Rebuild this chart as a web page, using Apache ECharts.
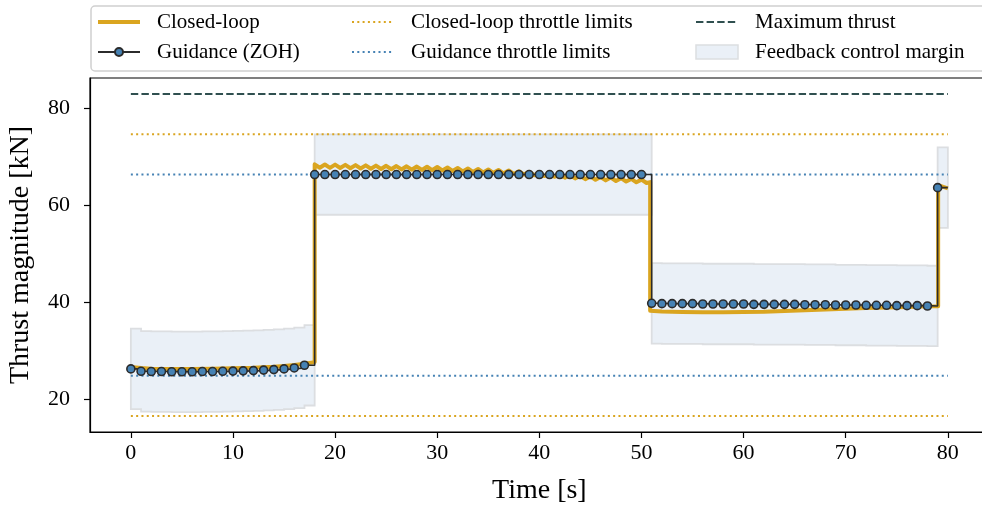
<!DOCTYPE html>
<html>
<head>
<meta charset="utf-8">
<script src="https://cdn.jsdelivr.net/npm/echarts@6/dist/echarts.min.js"></script>
<style>
  html, body { margin: 0; padding: 0; background: #fff; overflow: hidden; }
  #chart { width: 982px; height: 510px; }
</style>
</head>
<body>
<div id="chart"></div>
<script>
// ---- Data -------------------------------------------------------------
// Guidance thrust command, held between 1 s updates (zero-order hold)
const guidanceTime = [
  0, 1, 2, 3, 4, 5, 6, 7, 8, 9, 10, 11, 12, 13, 14, 15, 16, 17,
  18, 19, 20, 21, 22, 23, 24, 25, 26, 27, 28, 29, 30, 31, 32, 33, 34,
  35, 36, 37, 38, 39, 40, 41, 42, 43, 44, 45, 46, 47, 48, 49, 50,
  51, 52, 53, 54, 55, 56, 57, 58, 59, 60, 61, 62, 63, 64, 65, 66, 67,
  68, 69, 70, 71, 72, 73, 74, 75, 76, 77, 78,
  79
];
const guidanceThrust = [
  26.3, 25.8, 25.75, 25.75, 25.7, 25.7, 25.7, 25.75, 25.75, 25.8, 25.85, 25.9, 25.95, 26.05, 26.15, 26.3, 26.5, 27.05,
  66.4, 66.4, 66.4, 66.4, 66.4, 66.4, 66.4, 66.4, 66.4, 66.4, 66.4, 66.4, 66.4, 66.4, 66.4, 66.4, 66.4,
  66.4, 66.4, 66.4, 66.4, 66.4, 66.4, 66.4, 66.4, 66.4, 66.4, 66.4, 66.4, 66.4, 66.4, 66.4, 66.4,
  39.83, 39.76, 39.76, 39.76, 39.76, 39.69, 39.69, 39.69, 39.69, 39.69, 39.62, 39.62, 39.62, 39.62, 39.62, 39.55, 39.55,
  39.55, 39.48, 39.48, 39.48, 39.42, 39.42, 39.42, 39.35, 39.35, 39.35, 39.28,
  63.7
];
const guidanceEnd = 80;            // last command is held until the end of the run

// Closed-loop thrust response
const closedLoopTime = [
  0, 1, 2, 4, 6, 8, 10, 12, 13, 14, 15, 16, 17, 18,
  18, 18.5, 19, 19.5, 20, 20.5, 21, 21.5, 22, 22.5, 23, 23.5, 24, 24.5, 25, 25.5, 26, 26.5,
  27, 27.5, 28, 28.5, 29, 29.5, 30, 30.5, 31, 31.5, 32, 32.5, 33, 33.5, 34, 34.5,
  35, 35.5, 36, 36.5, 37, 37.5, 38, 38.5, 39, 39.5, 40, 40.5, 41, 41.5, 42, 42.5,
  43, 43.5, 44, 44.5, 45, 45.5, 46, 46.5, 47, 47.5, 48, 48.5, 49, 49.5, 50, 50.5, 50.85,
  50.85, 52, 54, 56, 58, 60, 62, 64, 66, 68, 70, 72, 74, 76, 78, 79.05,
  79.05, 80
];
const closedLoopThrust = [
  26.7, 26.5, 26.35, 26.3, 26.3, 26.35, 26.45, 26.55, 26.65, 26.75, 26.9, 27.1, 27.35, 27.7,
  68.5, 67.8, 68.47, 67.77, 68.45, 67.75, 68.4, 67.7, 68.35, 67.65, 68.3, 67.6, 68.25, 67.55, 68.2, 67.5, 68.15, 67.45,
  68.1, 67.4, 68.05, 67.35, 68.0, 67.3, 67.95, 67.25, 67.85, 67.15, 67.75, 67.05, 67.65, 66.95, 67.55, 66.85,
  67.45, 66.75, 67.35, 66.65, 67.23, 66.53, 67.1, 66.4, 66.95, 66.25, 66.8, 66.1, 66.63, 65.93, 66.45, 65.75,
  66.3, 65.6, 66.15, 65.45, 66.03, 65.33, 65.9, 65.2, 65.77, 65.07, 65.65, 64.95, 65.5, 64.8, 65.35, 64.65, 64.85,
  38.3, 38.15, 38.05, 38.0, 38.0, 38.05, 38.1, 38.25, 38.4, 38.55, 38.7, 38.85, 38.95, 39.05, 39.2, 39.25,
  64.2, 63.55
];

const maxThrust = 83.0;                    // kN
const closedLoopLimits = [16.6, 74.7];     // kN
const guidanceLimits = [24.9, 66.4];       // kN
const limitSpan = [0, 80];                 // s
const controlMargin = 8.3;                 // kN either side of the guidance command
const marginSegments = [[0, 18], [18, 51], [51, 79], [79, 80]];

const xTicks = [0, 10, 20, 30, 40, 50, 60, 70, 80];
const yTicks = [20, 40, 60, 80];

// ---- Styling ------------------------------------------------------------
const FONT = "'Liberation Serif', 'DejaVu Serif', serif";
const GOLD = '#daa520';
const STEEL = '#4682b4';
const DARK = '#2b2b2b';
const SLATE = '#2f4f4f';
const BAND_FILL = '#eaf0f7';
const BAND_EDGE = '#dcdee1';

const pairs = (xs, ys) => xs.map((x, i) => [x, ys[i]]);

const guidanceData = pairs(guidanceTime, guidanceThrust);
guidanceData.push({ value: [guidanceEnd, guidanceThrust[guidanceThrust.length - 1]], symbol: 'none' });

function hline(name, y, color, dash, z) {
  return {
    name, type: 'line', data: [[limitSpan[0], y], [limitSpan[1], y]],
    symbol: 'none', silent: true, z,
    lineStyle: { color, width: 2, type: dash, cap: 'butt' },
    itemStyle: { color }
  };
}

// Filled band: zero-order hold of guidance ± margin, one polygon per burn segment
function renderMargin(params, api) {
  const s = api.value(0), e = api.value(1);
  const top = [], bottom = [];
  const idx = [];
  guidanceTime.forEach((t, i) => { if (t >= s && t < e) idx.push(i); });
  idx.forEach((i, k) => {
    const t0 = guidanceTime[i];
    const t1 = k + 1 < idx.length ? guidanceTime[idx[k + 1]] : e;
    const g = guidanceThrust[i];
    top.push(api.coord([t0, g + controlMargin]), api.coord([t1, g + controlMargin]));
    bottom.push(api.coord([t0, g - controlMargin]), api.coord([t1, g - controlMargin]));
  });
  return {
    type: 'polygon',
    shape: { points: top.concat(bottom.reverse()) },
    style: { fill: BAND_FILL, stroke: BAND_EDGE, lineWidth: 1.8 }
  };
}

const legendText = { fontFamily: FONT, fontSize: 21, color: '#000', lineHeight: 24, padding: [0, 0, 0, 12] };
const legendBase = {
  orient: 'vertical', top: 10, itemWidth: 42, itemHeight: 14, itemGap: 6,
  padding: 0, selectedMode: false, textStyle: legendText
};
const plainLine = (name, extra) => Object.assign({ name, itemStyle: { opacity: 0 } }, extra || {});

const option = {
  animation: false,
  backgroundColor: '#fff',
  graphic: [{
    type: 'rect', z: 0, silent: true,
    shape: { x: 91, y: 6, width: 1000, height: 65, r: 4 },
    style: { fill: '#fff', stroke: '#d0d0d0', lineWidth: 1.5 }
  }],
  legend: [
    Object.assign({}, legendBase, {
      left: 96, itemHeight: 10,
      data: [plainLine('Closed-loop', { lineStyle: { width: 4, color: GOLD } }), 'Guidance (ZOH)']
    }),
    Object.assign({}, legendBase, {
      left: 351, itemHeight: 10,
      data: [plainLine('Closed-loop throttle limits'), plainLine('Guidance throttle limits')]
    }),
    Object.assign({}, legendBase, {
      left: 695,
      data: [plainLine('Maximum thrust'), {
        name: 'Feedback control margin', icon: 'rect',
        itemStyle: { color: BAND_FILL, borderColor: BAND_EDGE, borderWidth: 1.5 }
      }]
    })
  ],
  grid: {
    left: 90, top: 78, width: 898.7, height: 354, outerBoundsMode: 'none',
    show: true, borderColor: '#000', borderWidth: 1.2, backgroundColor: 'transparent'
  },
  xAxis: {
    type: 'value', min: -4, max: 84,
    name: 'Time [s]', nameLocation: 'middle', nameGap: 45,
    nameTextStyle: { fontFamily: FONT, fontSize: 28, color: '#000' },
    axisLine: { show: true, onZero: false, lineStyle: { color: '#000', width: 1.2 } },
    axisTick: { show: true, length: 6, customValues: xTicks, lineStyle: { color: '#000', width: 1.2 } },
    axisLabel: { customValues: xTicks, margin: 10, fontFamily: FONT, fontSize: 22, color: '#000' },
    splitLine: { show: false }
  },
  yAxis: {
    type: 'value', min: 13.28, max: 86.32,
    name: 'Thrust magnitude [kN]', nameLocation: 'middle', nameGap: 55, nameRotate: 90,
    nameTextStyle: { fontFamily: FONT, fontSize: 28, color: '#000' },
    axisLine: { show: true, onZero: false, lineStyle: { color: '#000', width: 1.2 } },
    axisTick: { show: true, length: 6, customValues: yTicks, lineStyle: { color: '#000', width: 1.2 } },
    axisLabel: { customValues: yTicks, margin: 20, fontFamily: FONT, fontSize: 22, color: '#000' },
    splitLine: { show: false }
  },
  series: [
    {
      name: 'Feedback control margin', type: 'custom', z: 1, silent: true,
      renderItem: renderMargin,
      encode: { x: [0, 1], y: 2 },
      data: marginSegments.map((s) => [s[0], s[1], guidanceThrust[guidanceTime.indexOf(s[0])]]),
      itemStyle: { color: BAND_FILL, borderColor: BAND_EDGE }
    },
    hline('Maximum thrust', maxThrust, SLATE, [7.4, 3.2], 2),
    hline('Closed-loop throttle limits', closedLoopLimits[1], GOLD, [2, 3.3], 2),
    hline('Closed-loop throttle limits', closedLoopLimits[0], GOLD, [2, 3.3], 2),
    hline('Guidance throttle limits', guidanceLimits[1], STEEL, [2, 3.3], 2),
    hline('Guidance throttle limits', guidanceLimits[0], STEEL, [2, 3.3], 2),
    {
      name: 'Closed-loop', type: 'line', z: 3, silent: true,
      data: pairs(closedLoopTime, closedLoopThrust),
      symbol: 'none',
      lineStyle: { color: GOLD, width: 4, join: 'round' },
      itemStyle: { color: GOLD }
    },
    {
      name: 'Guidance (ZOH)', type: 'line', z: 4, silent: true,
      step: 'end', showAllSymbol: true,
      data: guidanceData,
      symbol: 'circle', symbolSize: 8,
      lineStyle: { color: DARK, width: 1.6 },
      itemStyle: { color: STEEL, borderColor: DARK, borderWidth: 1.6 }
    }
  ]
};

const chart = echarts.init(document.getElementById('chart'), null, { renderer: 'canvas' });
chart.setOption(option);
</script>
</body>
</html>
